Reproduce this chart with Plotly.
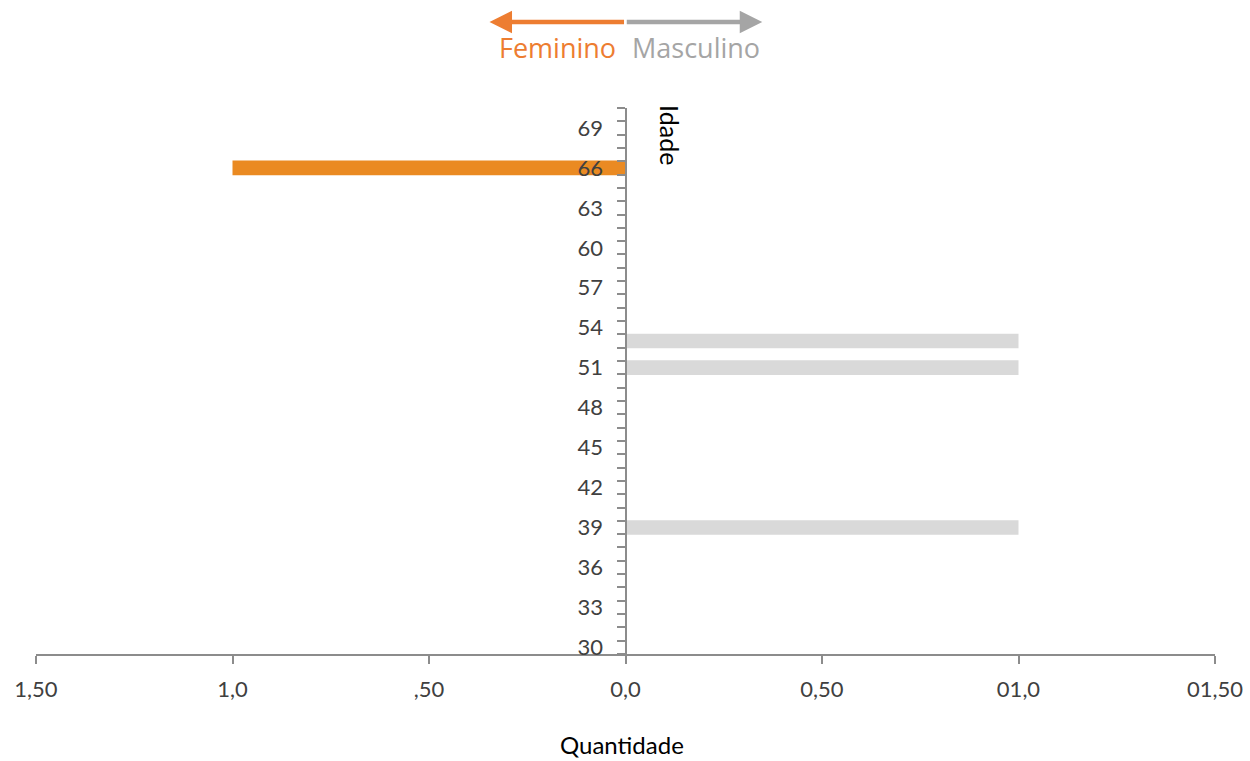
import plotly.graph_objects as go

# Data
female_ages = [66]
female_counts = [1]
male_ages = [39, 51, 53]
male_counts = [1, 1, 1]

x_tickvals = [-1.5, -1.0, -0.5, 0.0, 0.5, 1.0, 1.5]
x_ticktext = ["1,50", "1,0", ",50", "0,0", "0,50", "01,0", "01,50"]

age_min, age_max = 30, 70

ORANGE = "#EA8A22"
GRAY_BAR = "#D9D9D9"
AXIS = "#8C8C8C"
TXT = "#404040"
FONT = "Lato, 'Open Sans', sans-serif"
LFONT = "'Open Sans', sans-serif"

fig = go.Figure()
fig.add_trace(go.Bar(
    y=female_ages, x=[-v for v in female_counts], orientation="h",
    marker=dict(color=ORANGE, line=dict(width=0)), width=1.1, name="Feminino",
))
fig.add_trace(go.Bar(
    y=male_ages, x=male_counts, orientation="h",
    marker=dict(color=GRAY_BAR, line=dict(width=0)), width=1.1, name="Masculino",
))

fig.update_layout(
    width=1250, height=761,
    margin=dict(l=36, r=35, t=108, b=107, autoexpand=False),
    plot_bgcolor="white", paper_bgcolor="white",
    showlegend=False, barmode="overlay",
    font=dict(family=FONT, size=20, color=TXT),
    xaxis=dict(
        range=[-1.5, 1.5], tickmode="array", tickvals=x_tickvals, ticktext=x_ticktext,
        showgrid=False, zeroline=False, showline=True, linecolor=AXIS, linewidth=2,
        ticks="outside", ticklen=8, tickwidth=2, tickcolor=AXIS,
        ticklabelstandoff=7, automargin=False,
        tickfont=dict(family=FONT, size=22, color=TXT),
    ),
    yaxis=dict(
        range=[age_min - 0.5, age_max + 0.5], tickmode="linear", tick0=30, dtick=3,
        anchor="free", position=0.5, automargin=False,
        showgrid=False, zeroline=False, showline=True, linecolor=AXIS, linewidth=2,
        ticks="outside", ticklen=8, tickcolor="rgba(0,0,0,0)",
        ticklabelstandoff=9,
        minor=dict(tick0=age_min - 0.5, dtick=1, ticks="outside", ticklen=8,
                   tickwidth=2, tickcolor=AXIS, showgrid=False),
        tickfont=dict(family=FONT, size=22, color=TXT),
    ),
)

# Axis titles
fig.add_annotation(text="Quantidade", xref="paper", yref="paper", x=0.497, y=-0.166,
                   xanchor="center", yanchor="middle", showarrow=False,
                   font=dict(family=FONT, size=24, color="black"))
fig.add_annotation(text="Idade", xref="paper", yref="paper", x=0.5377, y=0.9505,
                   xanchor="center", yanchor="middle",
                   textangle=90, showarrow=False,
                   font=dict(family=FONT, size=25, color="black"))

# Direction legend arrows
fig.add_annotation(x=-0.346, y=1.1575, xref="x", yref="paper", text="",
                   showarrow=True, ax=136, ay=0, axref="pixel", ayref="pixel",
                   arrowhead=2, arrowsize=1.0, arrowwidth=4.5, arrowcolor="#ED7D31")
fig.add_annotation(x=0.348, y=1.1575, xref="x", yref="paper", text="",
                   showarrow=True, ax=-137, ay=0, axref="pixel", ayref="pixel",
                   arrowhead=2, arrowsize=1.0, arrowwidth=4.5, arrowcolor="#A5A5A5")
fig.add_annotation(text="Feminino", x=-0.019, y=1.1117, xref="x", yref="paper",
                   xanchor="right", yanchor="middle", showarrow=False,
                   font=dict(family=LFONT, size=27, color="#ED7D31"))
fig.add_annotation(text="Masculino", x=0.011, y=1.1117, xref="x", yref="paper",
                   xanchor="left", yanchor="middle", showarrow=False,
                   font=dict(family=LFONT, size=27, color="#A5A5A5"))

fig.write_html("out.html",
               config={"displayModeBar": False},
               post_script="document.body.style.margin='0';document.body.style.overflow='hidden';")
